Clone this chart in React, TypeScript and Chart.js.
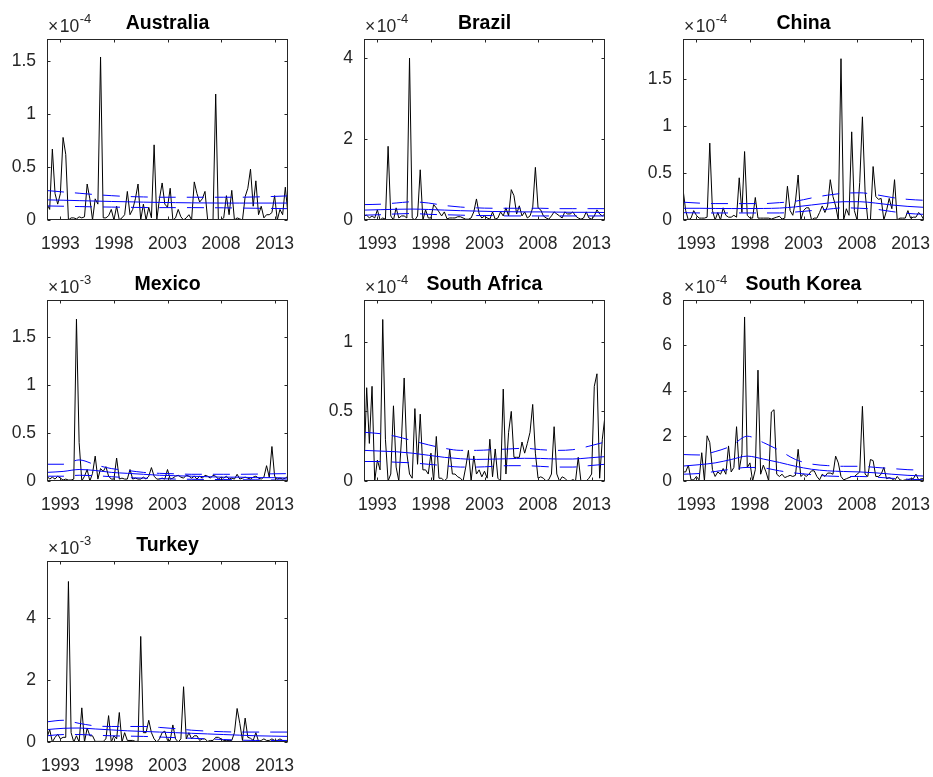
import React, { useEffect, useRef } from "react";
import { Chart, registerables } from "chart.js";

Chart.register(...registerables);

const FONT = '"Liberation Sans", Arial, Helvetica, sans-serif';
const AXIS_COLOR = "#262626";

// quarterly dates 1991Q4 .. 2014Q2
const firstQuarter = 1991.75;
const quarterStep = 0.25;
const xTicks = [1993, 1998, 2003, 2008, 2013];
const bandYears = [1991.75, 1993.25, 1994.75, 1996.25, 1997.75, 1999.25, 2000.75, 2002.25, 2003.75, 2005.25, 2006.75, 2008.25, 2009.75, 2011.25, 2012.75, 2014.25];

// ---- Australia (x1e-4)
const australia = [0.15,0.10,0.67,0.25,0.15,0.25,0.78,0.62,0.00,0.02, 0.02,0.01,0.03,0.02,0.03,0.34,0.20,0.00,0.20,0.15, 1.54,0.02,0.02,0.04,0.10,0.00,0.13,0.00,0.02,0.05, 0.27,0.05,0.10,0.20,0.34,0.00,0.15,0.00,0.12,0.02, 0.71,0.00,0.20,0.35,0.15,0.12,0.30,0.00,0.02,0.10, 0.03,0.00,0.02,0.05,0.00,0.36,0.25,0.17,0.20,0.27, 0.00,0.00,0.00,1.19,0.00,0.00,0.02,0.23,0.05,0.28, 0.00,0.02,0.01,0.00,0.22,0.30,0.48,0.13,0.37,0.05, 0.13,0.02,0.05,0.05,0.07,0.23,0.00,0.10,0.05,0.31, 0.05];
const australiaTrend = [0.19,0.187,0.183,0.179,0.175,0.172,0.169,0.166,0.164,0.162,0.161,0.16,0.16,0.16,0.16,0.16];
const australiaUpper = [0.278,0.265,0.253,0.24,0.23,0.222,0.218,0.215,0.215,0.215,0.215,0.215,0.215,0.218,0.222,0.228];
const australiaLower = [0.133,0.13,0.127,0.124,0.122,0.12,0.118,0.117,0.117,0.117,0.116,0.115,0.113,0.111,0.109,0.107];

// ---- Brazil (x1e-4)
const brazil = [0.10,0.12,0.05,0.10,0.05,0.25,0.00,0.05,0.02,1.82, 0.10,0.00,0.30,0.05,0.10,0.10,0.05,4.00,0.05,0.00, 0.10,1.24,0.00,0.25,0.05,0.05,0.38,0.30,0.20,0.10, 0.20,0.03,0.05,0.05,0.05,0.08,0.08,0.05,0.02,0.02, 0.05,0.20,0.52,0.15,0.05,0.10,0.05,0.02,0.20,0.02, 0.05,0.20,0.10,0.30,0.10,0.75,0.60,0.15,0.35,0.10, 0.20,0.05,0.10,0.30,1.30,0.30,0.25,0.10,0.05,0.02, 0.10,0.20,0.15,0.10,0.05,0.20,0.15,0.15,0.20,0.10, 0.05,0.02,0.05,0.20,0.05,0.02,0.10,0.25,0.15,0.10, 0.15];
const brazilTrend = [0.245,0.255,0.265,0.27,0.26,0.245,0.23,0.22,0.21,0.205,0.2,0.2,0.195,0.19,0.19,0.185];
const brazilUpper = [0.38,0.39,0.42,0.45,0.42,0.36,0.32,0.3,0.29,0.29,0.29,0.29,0.28,0.28,0.28,0.28];
const brazilLower = [0.12,0.13,0.15,0.16,0.14,0.13,0.12,0.11,0.11,0.1,0.1,0.1,0.1,0.1,0.1,0.1];

// ---- China (x1e-4)
const china = [0.33,0.10,0.00,0.02,0.10,0.05,0.02,0.02,0.02,0.03, 0.82,0.10,0.00,0.08,0.00,0.13,0.05,0.03,0.03,0.05, 0.03,0.45,0.08,0.73,0.05,0.02,0.02,0.24,0.02,0.02, 0.02,0.02,0.02,0.01,0.02,0.03,0.04,0.01,0.02,0.36, 0.10,0.05,0.20,0.48,0.00,0.10,0.13,0.13,0.00,0.02, 0.02,0.08,0.15,0.08,0.15,0.43,0.25,0.15,0.00,1.72, 0.00,0.12,0.05,0.94,0.10,0.00,0.40,1.10,0.30,0.00, 0.00,0.57,0.25,0.22,0.23,0.00,0.10,0.23,0.12,0.43, 0.00,0.02,0.02,0.02,0.10,0.02,0.03,0.03,0.08,0.05, 0.00];
const chinaTrend = [0.125,0.125,0.123,0.122,0.122,0.123,0.127,0.14,0.16,0.18,0.195,0.195,0.18,0.16,0.145,0.135];
const chinaUpper = [0.19,0.18,0.175,0.175,0.175,0.175,0.185,0.2,0.235,0.265,0.285,0.29,0.27,0.24,0.22,0.21];
const chinaLower = [0.078,0.075,0.075,0.075,0.075,0.075,0.075,0.085,0.1,0.115,0.13,0.125,0.115,0.09,0.07,0.06];

// ---- Mexico (x1e-3)
const mexico = [0.05,0.02,0.04,0.02,0.05,0.03,0.01,0.02,0.01,0.01, 0.02,1.69,0.40,0.00,0.05,0.12,0.00,0.08,0.26,0.02, 0.13,0.10,0.15,0.05,0.02,0.02,0.24,0.02,0.03,0.02, 0.02,0.12,0.02,0.03,0.02,0.02,0.04,0.02,0.05,0.14, 0.05,0.02,0.02,0.03,0.02,0.12,0.02,0.03,0.05,0.06, 0.04,0.03,0.06,0.05,0.03,0.05,0.02,0.05,0.03,0.06, 0.05,0.03,0.06,0.05,0.02,0.04,0.03,0.05,0.02,0.03, 0.02,0.07,0.02,0.03,0.04,0.03,0.02,0.04,0.05,0.03, 0.02,0.04,0.16,0.04,0.36,0.05,0.02,0.03,0.02,0.03, 0.05];
const mexicoTrend = [0.09,0.1,0.12,0.11,0.09,0.08,0.07,0.06,0.055,0.05,0.045,0.04,0.04,0.035,0.035,0.03];
const mexicoUpper = [0.175,0.175,0.22,0.17,0.13,0.11,0.09,0.08,0.075,0.07,0.07,0.07,0.07,0.072,0.075,0.077];
const mexicoLower = [0.05,0.05,0.06,0.055,0.045,0.035,0.03,0.025,0.02,0.018,0.016,0.015,0.013,0.012,0.011,0.01];

// ---- South Africa (x1e-4)
const southAfrica = [0.08,0.67,0.27,0.68,0.00,0.15,0.08,1.16,0.30,0.00, 0.05,0.54,0.10,0.00,0.30,0.74,0.20,0.05,0.02,0.52, 0.12,0.48,0.08,0.08,0.05,0.20,0.00,0.32,0.02,0.02, 0.00,0.02,0.23,0.05,0.05,0.03,0.02,0.00,0.10,0.22, 0.00,0.18,0.05,0.08,0.03,0.07,0.02,0.30,0.03,0.23, 0.02,0.00,0.66,0.05,0.35,0.50,0.17,0.17,0.17,0.28, 0.20,0.27,0.35,0.55,0.20,0.02,0.03,0.02,0.00,0.01, 0.05,0.39,0.05,0.00,0.03,0.02,0.00,0.00,0.01,0.00, 0.17,0.00,0.00,0.00,0.02,0.05,0.68,0.77,0.02,0.30, 0.47];
const southAfricaTrend = [0.22,0.215,0.21,0.2,0.185,0.17,0.16,0.155,0.157,0.16,0.163,0.162,0.158,0.158,0.166,0.175];
const southAfricaUpper = [0.35,0.34,0.32,0.29,0.26,0.235,0.22,0.22,0.225,0.23,0.235,0.225,0.22,0.225,0.25,0.28];
const southAfricaLower = [0.14,0.14,0.135,0.13,0.12,0.11,0.1,0.1,0.105,0.11,0.11,0.105,0.1,0.1,0.11,0.12];

// ---- South Korea (x1e-4)
const southKorea = [0.40,0.40,0.70,0.05,0.05,0.20,0.05,1.25,0.00,2.00, 1.70,0.50,0.20,0.40,0.30,0.55,0.30,1.55,0.40,0.60, 2.40,0.50,1.20,7.25,0.60,0.80,0.00,0.50,4.90,0.30, 0.70,0.40,0.00,3.05,3.15,0.30,0.20,0.30,0.15,0.20, 0.25,0.20,0.25,1.40,0.20,0.30,0.20,0.30,0.45,0.45, 0.20,0.05,0.30,0.20,0.35,0.35,0.30,1.10,0.80,0.20, 0.05,0.10,0.15,0.20,0.20,0.30,0.40,3.30,0.30,0.20, 0.95,0.90,0.20,0.20,0.30,0.60,0.10,0.15,0.10,0.02, 0.20,0.05,0.02,0.05,0.05,0.10,0.10,0.30,0.05,0.10, 0.10];
const southKoreaTrend = [0.66,0.72,0.8,0.95,1.1,0.97,0.82,0.65,0.52,0.45,0.42,0.4,0.36,0.3,0.25,0.22];
const southKoreaUpper = [1.17,1.15,1.3,1.55,1.98,1.7,1.35,0.95,0.75,0.68,0.65,0.65,0.6,0.55,0.5,0.48];
const southKoreaLower = [0.3,0.33,0.42,0.52,0.6,0.58,0.45,0.35,0.28,0.22,0.2,0.2,0.17,0.12,0.08,0.05];

// ---- Turkey (x1e-3)
const turkey = [0.15,0.40,0.00,0.15,0.25,0.10,0.15,0.15,5.17,0.30, 0.00,0.20,0.00,1.10,0.00,0.45,0.20,0.20,0.02,0.02, 0.02,0.02,0.10,0.85,0.00,0.20,0.10,0.95,0.00,0.30, 0.05,0.05,0.05,0.02,0.02,3.40,0.30,0.30,0.70,0.30, 0.10,0.00,0.10,0.30,0.35,0.05,0.05,0.55,0.10,0.00, 0.10,1.78,0.10,0.30,0.10,0.20,0.20,0.05,0.10,0.10, 0.02,0.05,0.05,0.15,0.15,0.10,0.05,0.05,0.05,0.05, 0.30,1.08,0.60,0.05,0.77,0.15,0.12,0.05,0.30,0.02, 0.05,0.10,0.05,0.05,0.10,0.05,0.05,0.10,0.05,0.02, 0.02];
const turkeyTrend = [0.4,0.44,0.45,0.42,0.39,0.36,0.34,0.32,0.3,0.28,0.26,0.24,0.22,0.2,0.19,0.18];
const turkeyUpper = [0.65,0.7,0.6,0.52,0.5,0.5,0.5,0.47,0.43,0.38,0.35,0.33,0.32,0.32,0.32,0.32];
const turkeyLower = [0.2,0.24,0.24,0.22,0.2,0.19,0.18,0.16,0.14,0.12,0.1,0.08,0.06,0.05,0.05,0.05];

const panels = [
  { name: "Australia", exp: "-4", yMax: 1.71, yTicks: [0, 0.5, 1, 1.5], values: australia, trend: australiaTrend, upper: australiaUpper, lower: australiaLower, col: 0, row: 0 },
  { name: "Brazil", exp: "-4", yMax: 4.47, yTicks: [0, 2, 4], values: brazil, trend: brazilTrend, upper: brazilUpper, lower: brazilLower, col: 1, row: 0 },
  { name: "China", exp: "-4", yMax: 1.93, yTicks: [0, 0.5, 1, 1.5], values: china, trend: chinaTrend, upper: chinaUpper, lower: chinaLower, col: 2, row: 0 },
  { name: "Mexico", exp: "-3", yMax: 1.89, yTicks: [0, 0.5, 1, 1.5], values: mexico, trend: mexicoTrend, upper: mexicoUpper, lower: mexicoLower, col: 0, row: 1 },
  { name: "South Africa", exp: "-4", yMax: 1.3, yTicks: [0, 0.5, 1], values: southAfrica, trend: southAfricaTrend, upper: southAfricaUpper, lower: southAfricaLower, col: 1, row: 1 },
  { name: "South Korea", exp: "-4", yMax: 8.0, yTicks: [0, 2, 4, 6, 8], values: southKorea, trend: southKoreaTrend, upper: southKoreaUpper, lower: southKoreaLower, col: 2, row: 1 },
  { name: "Turkey", exp: "-3", yMax: 5.83, yTicks: [0, 2, 4], values: turkey, trend: turkeyTrend, upper: turkeyUpper, lower: turkeyLower, col: 0, row: 2 },
];

// layout (px)
const colLeft = [47, 364, 683];
const rowTop = [39, 300, 561];
const boxW = 241;
const boxH = 181;
const padLeft = 47;
const padTop = 39;
const padRight = 8;
const padBottom = 36;
const TICK_SIZE = 17.5;

const framePlugin = {
  id: "matlabFrame",
  afterDraw(chart: any) {
    const { ctx, chartArea } = chart;
    const p = chart.options.plugins.matlabFrame;
    const l = Math.round(chartArea.left) + 0.5;
    const r = Math.round(chartArea.right) - 0.5;
    const t = Math.round(chartArea.top) + 0.5;
    const b = Math.round(chartArea.bottom) - 0.5;
    ctx.save();
    ctx.strokeStyle = AXIS_COLOR;
    ctx.lineWidth = 1;
    ctx.strokeRect(l, t, r - l, b - t);
    const tl = 3;
    ctx.beginPath();
    const xs = chart.scales.x;
    xs.ticks.forEach((tk: any) => {
      const px = Math.round(xs.getPixelForValue(tk.value)) + 0.5;
      ctx.moveTo(px, b); ctx.lineTo(px, b - tl);
      ctx.moveTo(px, t); ctx.lineTo(px, t + tl);
    });
    const ys = chart.scales.y;
    ys.ticks.forEach((tk: any) => {
      const py = Math.round(ys.getPixelForValue(tk.value)) + 0.5;
      ctx.moveTo(l, py); ctx.lineTo(l + tl, py);
      ctx.moveTo(r, py); ctx.lineTo(r - tl, py);
    });
    ctx.stroke();

    // title
    ctx.fillStyle = "#000";
    ctx.font = `bold 19.5px ${FONT}`;
    ctx.textAlign = "center";
    ctx.textBaseline = "alphabetic";
    ctx.fillText(p.title, (chartArea.left + chartArea.right) / 2, chartArea.top - 10);

    // exponent label
    ctx.fillStyle = AXIS_COLOR;
    ctx.textAlign = "left";
    ctx.font = `17.5px ${FONT}`;
    const bx = chartArea.left + 1;
    const by = chartArea.top - 7.5;
    ctx.fillText("\u00D7", bx, by);
    const wx = ctx.measureText("\u00D7").width;
    ctx.fillText("10", bx + wx + 1.5, by);
    const w10 = ctx.measureText("10").width;
    ctx.font = `13px ${FONT}`;
    ctx.fillText(p.exp, bx + wx + 1.5 + w10 + 0.5, by - 8.5);
    ctx.restore();
  },
};

function Panel({ p }: { p: any }) {
  const ref = useRef<HTMLCanvasElement | null>(null);
  useEffect(() => {
    if (!ref.current) return;
    const series = p.values.map((v: number, i: number) => ({ x: firstQuarter + i * quarterStep, y: v }));
    const band = (arr: number[]) => arr.map((v, i) => ({ x: bandYears[i], y: v }));
    const tickFont = { family: FONT, size: TICK_SIZE };
    const chart = new Chart(ref.current, {
      type: "line",
      data: {
        datasets: [
          { data: series, borderColor: "#000000", borderWidth: 1, pointRadius: 0, tension: 0, order: 2 },
          { data: band(p.trend), borderColor: "#0000ff", borderWidth: 1, pointRadius: 0, cubicInterpolationMode: "monotone", order: 1 },
          { data: band(p.upper), borderColor: "#0000ff", borderWidth: 1, pointRadius: 0, borderDash: [17, 11], cubicInterpolationMode: "monotone", order: 1 },
          { data: band(p.lower), borderColor: "#0000ff", borderWidth: 1, pointRadius: 0, borderDash: [17, 11], cubicInterpolationMode: "monotone", order: 1 },
        ],
      } as any,
      options: {
        animation: false,
        responsive: false,
        maintainAspectRatio: false,
        events: [],
        layout: { padding: { left: 0, top: padTop, right: padRight, bottom: 0 } },
        plugins: {
          legend: { display: false },
          tooltip: { enabled: false },
          title: { display: false },
          matlabFrame: { title: p.name, exp: p.exp },
        } as any,
        scales: {
          x: {
            type: "linear",
            min: firstQuarter,
            max: firstQuarter + (p.values.length - 1) * quarterStep,
            grid: { display: false, drawTicks: false },
            border: { display: false },
            ticks: {
              autoSkip: false,
              maxRotation: 0,
              minRotation: 0,
              padding: 14,
              color: AXIS_COLOR,
              font: tickFont,
              callback: (v: any) => String(v),
            },
            afterBuildTicks: (s: any) => { s.ticks = xTicks.map((v) => ({ value: v })); },
            afterFit: (s: any) => { s.height = padBottom; s.paddingLeft = 0; s.paddingRight = 0; },
          },
          y: {
            type: "linear",
            min: 0,
            max: p.yMax,
            grid: { display: false, drawTicks: false },
            border: { display: false },
            ticks: {
              padding: 11,
              color: AXIS_COLOR,
              font: tickFont,
              callback: (v: any) => String(v),
            },
            afterBuildTicks: (s: any) => { s.ticks = p.yTicks.map((v: number) => ({ value: v })); },
            afterFit: (s: any) => { s.width = padLeft; s.paddingTop = 0; s.paddingBottom = 0; },
          },
        } as any,
      },
      plugins: [framePlugin],
    } as any);
    return () => chart.destroy();
  }, [p]);

  const left = colLeft[p.col] - padLeft;
  const top = rowTop[p.row] - padTop;
  const w = padLeft + boxW + padRight;
  const h = padTop + boxH + padBottom;
  return (
    <canvas
      ref={ref}
      width={w}
      height={h}
      style={{ position: "absolute", left, top, width: w, height: h }}
    />
  );
}

export default function App() {
  return (
    <div style={{ position: "fixed", left: 0, top: 0, width: 933, height: 777, background: "#ffffff", overflow: "hidden" }}>
      {panels.map((p) => (
        <Panel key={p.name} p={p} />
      ))}
    </div>
  );
}
